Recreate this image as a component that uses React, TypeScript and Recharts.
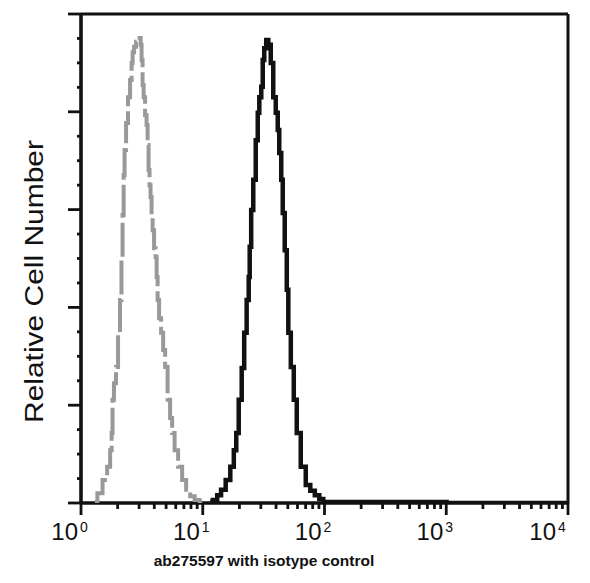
import { LineChart, Line, XAxis, YAxis, ReferenceLine } from "recharts";

// ── data (channel intensity → relative count) ─────────────────────────────

const isotypeIntensity = [
  1.30, 1.43, 1.58, 1.70, 1.77, 1.80, 1.83, 1.90, 1.98, 2.05,
  2.13, 2.17, 2.22, 2.26, 2.30, 2.39, 2.48, 2.58, 2.63, 2.68,
  2.78, 2.89, 3.00, 3.06, 3.12, 3.17, 3.24, 3.30, 3.42, 3.49,
  3.56, 3.62, 3.69, 3.76, 3.84, 3.91, 4.06, 4.14, 4.22, 4.30,
  4.46, 4.64, 4.82, 5.00, 5.29, 5.50, 5.71, 6.04, 6.52, 7.03,
  7.59, 8.18, 9.00, 9.89,
];
const isotypeCount = [
  0.2, 2.0, 4.7, 7.4, 10.8, 14.3, 21.1, 24.5, 27.8, 34.8,
  41.5, 49.7, 58.9, 67.1, 72.2, 77.7, 83.0, 86.5, 90.0, 92.2,
  93.3, 94.3, 94.7, 95.1, 93.7, 90.6, 85.5, 83.0, 79.3, 77.3,
  73.2, 68.1, 65.0, 62.6, 58.9, 55.8, 52.1, 50.3, 46.2, 41.5,
  37.8, 34.8, 31.3, 27.8, 21.1, 17.4, 14.3, 10.8, 7.4, 4.7,
  2.7, 1.4, 0.6, 0.2,
];

const antibodyIntensity = [
  11.5, 12.7, 13.6, 14.7, 16.2, 17.5, 18.5, 19.2, 20.3, 21.5,
  22.3, 23.6, 24.1, 24.5, 25.5, 26.5, 28.0, 28.6, 29.7, 30.8,
  31.4, 32.6, 33.9, 35.2, 37.2, 38.7, 40.9, 41.7, 43.3, 45.0,
  45.8, 48.5, 49.5, 51.4, 54.4, 57.5, 60.9, 66.9, 73.6, 79.4,
  87.3, 94.1, 101.5, 10000,
];
const antibodyCount = [
  0.2, 0.6, 1.6, 2.7, 4.7, 7.4, 10.8, 14.3, 21.1, 27.6,
  34.8, 41.5, 46.2, 52.4, 59.9, 66.1, 74.2, 79.8, 83.0, 85.1,
  90.6, 93.0, 94.7, 93.7, 90.0, 83.0, 79.8, 76.3, 71.6, 66.1,
  59.3, 51.7, 43.6, 34.8, 27.8, 21.1, 14.3, 7.4, 3.7, 2.5,
  1.6, 0.8, 0.2, 0,
];

const X_TICK_VALUES = [
  1, 2, 3, 4, 5, 6, 7, 8, 9,
  10, 20, 30, 40, 50, 60, 70, 80, 90,
  100, 200, 300, 400, 500, 600, 700, 800, 900,
  1000, 2000, 3000, 4000, 5000, 6000, 7000, 8000, 9000,
  10000,
];
const Y_TICKS = [0, 5, 10, 15, 20, 25, 30, 35, 40, 45, 50, 55, 60, 65, 70, 75, 80, 85, 90, 95, 100];

const Y_LABEL = "Relative Cell Number";
const X_LABEL = "ab275597 with isotype control";

// plotted on log10 of the intensity
const toRows = (xs: number[], ys: number[]) => xs.map((v, i) => ({ x: Math.log10(v), y: ys[i] }));
const isotypeRows = toRows(isotypeIntensity, isotypeCount);
const antibodyRows = toRows(antibodyIntensity, antibodyCount);
const xTicks = X_TICK_VALUES.map((v) => Math.log10(v));

const INK = "#111";
const FONT = "'Liberation Sans', Arial, sans-serif";

/* eslint-disable @typescript-eslint/no-explicit-any */
function XTick({ x, y, payload }: any) {
  const v = payload.value as number;
  const exp = Math.round(v);
  const major = Math.abs(v - exp) < 1e-6;
  const shift = exp === 4 ? -9 : 0;
  return (
    <g>
      <line x1={x} x2={x} y1={y} y2={y + (major ? 12 : 6)} stroke={INK} strokeWidth={2.8} />
      {major && (
        <g fontFamily={FONT} fill={INK}>
          <text x={x - 3 + shift} y={y + 37} fontSize={24} textAnchor="end">10</text>
          <text x={x - 1 + shift} y={y + 29} fontSize={14} textAnchor="start">{exp}</text>
        </g>
      )}
    </g>
  );
}

function YTick({ x, y, payload }: any) {
  const major = payload.value % 20 === 0;
  return <line x1={x} x2={x - (major ? 13 : 4)} y1={y} y2={y} stroke={INK} strokeWidth={2.8} />;
}
/* eslint-enable @typescript-eslint/no-explicit-any */

export default function App() {
  return (
    <div style={{ position: "relative", width: 590, height: 583, background: "#fff" }}>
      <style>{"body{margin:0}"}</style>
      <LineChart width={590} height={583} margin={{ top: 14, right: 22, bottom: 0, left: 0 }}>
        <XAxis
          type="number"
          dataKey="x"
          domain={[0, 4]}
          ticks={xTicks}
          interval={0}
          height={80}
          tickSize={0}
          tickMargin={0}
          tickLine={false}
          tick={<XTick />}
          axisLine={false}
          allowDataOverflow
        />
        <YAxis
          type="number"
          domain={[0, 100]}
          ticks={Y_TICKS}
          interval={0}
          width={81}
          tickSize={0}
          tickMargin={0}
          tickLine={false}
          tick={<YTick />}
          axisLine={false}
          allowDataOverflow
        />
        {/* frame: heavy axes, lighter top/right */}
        <ReferenceLine y={0} stroke={INK} strokeWidth={3.6} ifOverflow="visible" />
        <ReferenceLine x={0} stroke={INK} strokeWidth={3.6} ifOverflow="visible" />
        <ReferenceLine y={100} stroke={INK} strokeWidth={3} ifOverflow="visible" />
        <ReferenceLine x={4} stroke={INK} strokeWidth={3} ifOverflow="visible" />
        <Line
          data={isotypeRows}
          dataKey="y"
          type="step"
          stroke="#999"
          strokeWidth={4}
          strokeDasharray="34 5"
          dot={false}
          isAnimationActive={false}
        />
        <Line
          data={antibodyRows}
          dataKey="y"
          type="step"
          stroke={INK}
          strokeWidth={4.5}
          dot={false}
          isAnimationActive={false}
        />
      </LineChart>
      <svg width={590} height={583} style={{ position: "absolute", left: 0, top: 0, pointerEvents: "none" }}>
        <text
          transform="translate(43 281.5) rotate(-90)"
          textAnchor="middle"
          fontFamily={FONT}
          fontSize={26}
          textLength={283}
          lengthAdjust="spacingAndGlyphs"
          fill={INK}
        >
          {Y_LABEL}
        </text>
        <text
          x={264}
          y={566}
          textAnchor="middle"
          fontFamily={FONT}
          fontSize={15.5}
          fontWeight="bold"
          fill={INK}
        >
          {X_LABEL}
        </text>
      </svg>
    </div>
  );
}
